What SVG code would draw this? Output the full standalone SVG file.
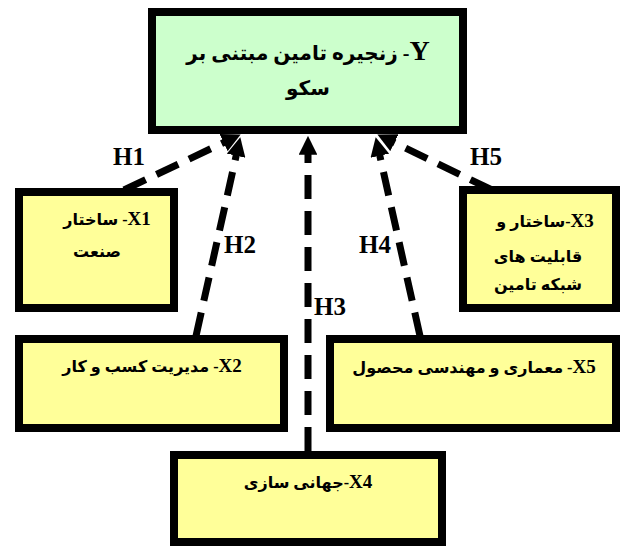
<svg xmlns="http://www.w3.org/2000/svg" width="623" height="546" viewBox="0 0 623 546">
<style>
.box{stroke:#000;stroke-width:8}
.y{fill:#CCFFCC}
.x{fill:#FFFF99}
.t{font-family:"Liberation Serif","DejaVu Sans",serif;font-weight:bold;fill:#000;text-anchor:middle;direction:rtl;font-size:16px}
.ty{font-size:20px}
.lat{font-family:"Liberation Serif",serif;font-size:19px}
.laty{font-family:"Liberation Serif",serif;font-size:28px}
.lbl{font-family:"Liberation Serif",serif;font-weight:bold;font-size:25px;fill:#000;text-anchor:middle}
.c{fill:none;stroke:#000;stroke-width:7;stroke-dasharray:24 12}
</style>
<defs>
<marker id="ah" viewBox="0 0 10 10" refX="2" refY="5" markerWidth="2.7" markerHeight="2.7" orient="auto" markerUnits="strokeWidth">
<path d="M0,0 L10,5 L0,10 z" fill="#000"/>
</marker>
</defs>
<g id="connectors">
<path class="c" d="M124,190 L227,141" marker-end="url(#ah)"/>
<path class="c" d="M196,336 L237,152" marker-end="url(#ah)"/>
<path class="c" d="M308,451 L308,151" marker-end="url(#ah)"/>
<path class="c" d="M420,336 L379,152" marker-end="url(#ah)"/>
<path class="c" d="M492,190 L391,141" marker-end="url(#ah)"/>
</g>
<g id="labels">
<text class="lbl" x="129" y="165">H1</text>
<text class="lbl" x="240" y="253">H2</text>
<text class="lbl" x="330" y="315">H3</text>
<text class="lbl" x="375" y="253">H4</text>
<text class="lbl" x="486" y="165">H5</text>
</g>
<g id="Y">
<rect class="box y" x="152" y="12" width="311" height="118"/>
<text class="t ty" x="308" y="60"><tspan class="laty">Y</tspan>- زنجیره تامین مبتنی بر</text>
<text class="t ty" x="308" y="95">سکو</text>
</g>
<g id="X1">
<rect class="box x" x="19" y="192" width="155" height="116"/>
<text class="t" x="107" y="225"><tspan class="lat">X1</tspan>- ساختار</text>
<text class="t" x="97" y="257">صنعت</text>
</g>
<g id="X3">
<rect class="box x" x="463" y="190" width="153" height="118"/>
<text class="t" x="545" y="227"><tspan class="lat">X3</tspan>-ساختار و</text>
<text class="t" x="538" y="262">قابلیت های</text>
<text class="t" x="538" y="290">شبکه تامین</text>
</g>
<g id="X2">
<rect class="box x" x="19" y="339" width="265" height="89"/>
<text class="t" x="152" y="372"><tspan class="lat">X2</tspan>- مدیریت کسب و  کار</text>
</g>
<g id="X5">
<rect class="box x" x="330" y="339" width="286" height="89"/>
<text class="t" x="474" y="373"><tspan class="lat">X5</tspan>- معماری و مهندسی محصول</text>
</g>
<g id="X4">
<rect class="box x" x="174" y="455" width="268" height="87"/>
<text class="t" x="308" y="488"><tspan class="lat">X4</tspan>-جهانی سازی</text>
</g>
</svg>
